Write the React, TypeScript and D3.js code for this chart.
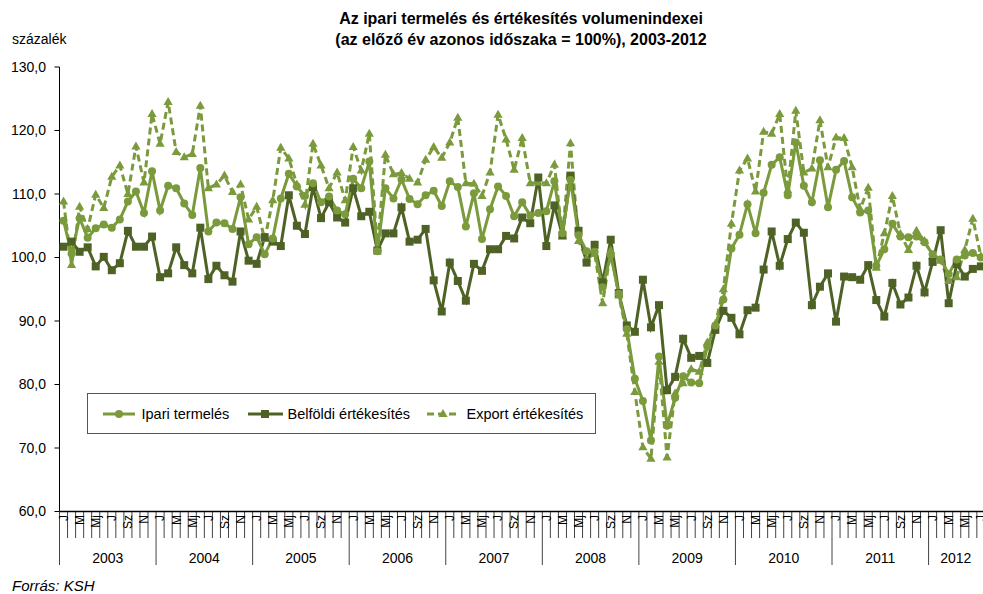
import React from 'react';
import * as d3 from 'd3';

const years = ['2003', '2004', '2005', '2006', '2007', '2008', '2009', '2010', '2011', '2012'];
const monthLabels = ['J', '', 'M', '', 'Mj', '', 'J', '', 'Sz', '', 'N', ''];
const yTicks = [60, 70, 80, 90, 100, 110, 120, 130];

const ipari = [
  105.8, 100.6, 106.2, 103.1, 104.6, 105.2, 104.7, 106.0, 108.8, 110.4, 107.0, 113.6,
  107.4, 111.3, 110.9, 108.5, 106.7, 114.1, 104.1, 105.5, 105.4, 104.5, 109.5, 102.1,
  103.2, 100.5, 103.0, 109.3, 113.2, 111.2, 109.7, 111.7, 108.7, 109.6, 107.4, 106.8,
  112.4, 110.9, 115.1, 101.0, 110.9, 109.3, 112.3, 109.2, 108.4, 109.8, 110.5, 108.1,
  112.0, 111.1, 104.9, 110.1, 102.9, 107.6, 111.2, 109.7, 106.5, 108.7, 106.6, 107.0,
  107.3, 112.0, 103.8, 112.2, 103.5, 101.0, 100.9, 95.3, 100.4, 94.3, 88.7, 80.9,
  77.4, 71.2, 84.4, 73.5, 77.9, 81.3, 80.3, 80.2, 86.0, 89.3, 93.4, 101.4,
  103.6, 108.4, 103.8, 110.2, 114.6, 115.8, 109.8, 118.1, 111.3, 108.7, 115.3, 107.9,
  113.8, 115.2, 109.5, 107.1, 107.4, 98.7, 101.3, 105.3, 103.3, 103.2, 103.3, 102.4,
  100.5, 99.7, 97.4, 99.7, 100.3, 100.7, 100.0,
];

const belfoldi = [
  101.7, 102.5, 100.9, 101.6, 98.6, 100.1, 98.0, 99.1, 104.2, 101.7, 101.7, 103.3,
  96.9, 97.5, 101.6, 98.8, 97.5, 104.7, 96.6, 98.7, 97.2, 96.2, 104.1, 99.5,
  99.0, 103.2, 102.5, 101.8, 109.8, 105.0, 103.7, 111.1, 106.2, 108.7, 106.3, 105.5,
  110.9, 106.5, 107.2, 101.1, 103.8, 103.8, 107.9, 102.5, 102.8, 104.5, 96.4, 91.5,
  99.2, 96.3, 93.2, 99.0, 97.9, 101.3, 101.3, 103.4, 103.0, 106.3, 105.4, 112.6,
  101.8, 108.2, 103.5, 112.9, 104.2, 99.2, 102.0, 96.1, 102.8, 94.4, 89.3, 88.3,
  96.5, 89.0, 92.5, 79.1, 81.2, 87.2, 84.2, 84.5, 83.4, 88.6, 91.6, 90.5,
  87.9, 91.7, 92.1, 98.1, 104.1, 98.7, 102.9, 105.5, 103.9, 92.5, 95.4, 97.5,
  89.9, 97.0, 96.9, 96.5, 98.8, 93.3, 90.7, 96.0, 92.6, 93.7, 98.7, 94.5,
  99.3, 104.3, 92.8, 99.0, 97.0, 98.2, 98.6,
];

const exportErt = [
  108.8, 98.8, 108.0, 104.5, 109.9, 107.8, 112.7, 114.5, 110.0, 117.5, 111.8, 122.6,
  117.9, 124.5, 116.6, 115.8, 116.3, 123.9, 110.9, 111.5, 112.9, 110.3, 111.5, 106.0,
  108.0, 102.9, 109.0, 117.3, 115.6, 111.5, 108.3, 117.9, 114.5, 110.9, 113.4, 109.0,
  117.4, 113.7, 119.5, 101.5, 116.2, 113.1, 113.3, 112.4, 111.8, 115.4, 117.4, 115.7,
  118.1, 122.0, 111.7, 111.6, 109.7, 113.4, 122.5, 118.6, 113.8, 118.8, 111.7, 111.8,
  111.7, 114.6, 103.3, 118.0, 102.6, 99.8, 100.6, 92.8, 101.1, 94.0, 88.0, 78.8,
  70.1, 68.3, 83.6, 68.5, 78.6, 80.2, 82.4, 82.0, 86.6, 89.5, 95.0, 105.3,
  113.7, 115.6, 110.4, 119.8, 119.5, 122.6, 110.6, 123.1, 113.4, 114.0, 121.6, 114.2,
  118.9, 118.8, 114.2, 107.6, 111.0, 98.4, 103.8, 109.7, 103.7, 101.2, 104.2, 102.6,
  100.2, 99.5, 96.3, 96.9, 101.2, 106.1, 100.2,
];

const LIGHT = '#7A9A3C';
const DARK = '#4E6226';
const FONT = '"Liberation Sans", Arial, sans-serif';

export default function App() {
  const W = 983;
  const H = 594;
  const n = ipari.length;
  const x0 = 59.5;
  const mw = 8.047;
  const x = d3.scaleLinear().domain([0, n]).range([x0, x0 + mw * n]);
  const y = d3.scaleLinear().domain([60, 130]).range([511.5, 67]);
  const line = d3
    .line<number>()
    .x((_, i) => x(i + 0.5))
    .y((d) => y(d));

  const tri = 'M0,-5 L4.6,3 L-4.6,3 Z';

  const monthIdx = d3.range(n + 1);
  const yearIdx = d3.range(years.length);

  return (
    <div style={{ position: 'absolute', left: 0, top: 0 }}>
      <svg width={W} height={H} style={{ display: 'block', background: '#fff' }} fontFamily={FONT}>
        <rect x={0} y={0} width={W} height={H} fill="#fff" />
        <text x={521} y={23.5} textAnchor="middle" fontSize={16} fontWeight="bold" fill="#000">
          Az ipari termelés és értékesítés volumenindexei
        </text>
        <text x={521} y={44.5} textAnchor="middle" fontSize={16} fontWeight="bold" fill="#000">
          (az előző év azonos időszaka = 100%), 2003-2012
        </text>
        <text x={12} y={44} fontSize={14} fill="#000">
          százalék
        </text>

        {/* y axis */}
        <line x1={x0} x2={x0} y1={y(130)} y2={y(60)} stroke="#000" strokeWidth={1} />
        {yTicks.map((t) => (
          <g key={t}>
            <line x1={x0 - 5} x2={x0} y1={y(t)} y2={y(t)} stroke="#000" strokeWidth={1} />
            <text x={46} y={y(t)} dy="0.35em" textAnchor="end" fontSize={14} fill="#000">
              {t.toFixed(1).replace('.', ',')}
            </text>
          </g>
        ))}

        {/* x axis */}
        {monthIdx.map((k) => (
          <line
            key={'m' + k}
            x1={x(k)}
            x2={x(k)}
            y1={y(60)}
            y2={k % 12 === 0 ? 565 : 538}
            stroke="#444"
            strokeWidth={1}
          />
        ))}
        {d3.range(n).map((i) =>
          monthLabels[i % 12] ? (
            <text
              key={'ml' + i}
              transform={`translate(${x(i + 0.5)},${515}) rotate(-90)`}
              textAnchor="end"
              dy="0.36em"
              fontSize={12}
              fill="#000"
            >
              {monthLabels[i % 12]}
            </text>
          ) : null
        )}
        {yearIdx.map((j) => {
          const a = x(j * 12);
          const b = x(Math.min((j + 1) * 12, n));
          const mid = j === years.length - 1 ? (a + Math.min(b, W)) / 2 : (a + b) / 2;
          return (
            <text key={'y' + j} x={mid} y={563} textAnchor="middle" fontSize={14} fill="#000">
              {years[j]}
            </text>
          );
        })}
        <line x1={x0} x2={W} y1={y(60)} y2={y(60)} stroke="#000" strokeWidth={1.5} />

        {/* series */}
        <path d={line(exportErt) || ''} fill="none" stroke={LIGHT} strokeWidth={3} strokeDasharray="7,4" />
        <path d={line(belfoldi) || ''} fill="none" stroke={DARK} strokeWidth={3} />
        <path d={line(ipari) || ''} fill="none" stroke={LIGHT} strokeWidth={3} />
        {exportErt.map((v, i) => (
          <path key={'t' + i} d={tri} transform={`translate(${x(i + 0.5)},${y(v)})`} fill={LIGHT} />
        ))}
        {belfoldi.map((v, i) => (
          <rect key={'s' + i} x={x(i + 0.5) - 4} y={y(v) - 4} width={8} height={8} fill={DARK} />
        ))}
        {ipari.map((v, i) => (
          <circle key={'c' + i} cx={x(i + 0.5)} cy={y(v)} r={4} fill={LIGHT} />
        ))}

        {/* legend */}
        <rect x={87.5} y={393.5} width={508} height={40} fill="#fff" stroke="#555" strokeWidth={1} />
        <line x1={103} x2={135} y1={414} y2={414} stroke={LIGHT} strokeWidth={3} />
        <circle cx={119} cy={414} r={4} fill={LIGHT} />
        <text x={141.5} y={414} dy="0.35em" fontSize={14.5} fill="#000">
          Ipari termelés
        </text>
        <line x1={248} x2={283} y1={414} y2={414} stroke={DARK} strokeWidth={3} />
        <rect x={261} y={410} width={8} height={8} fill={DARK} />
        <text x={287.5} y={414} dy="0.35em" fontSize={14.5} fill="#000">
          Belföldi értékesítés
        </text>
        <line x1={427} x2={460} y1={414} y2={414} stroke={LIGHT} strokeWidth={3} strokeDasharray="7,4" />
        <path d={tri} transform="translate(443,414)" fill={LIGHT} />
        <text x={466.5} y={414} dy="0.35em" fontSize={14.5} fill="#000">
          Export értékesítés
        </text>

        <text x={12} y={591} fontSize={15} fontStyle="italic" fill="#000">
          Forrás: KSH
        </text>
      </svg>
    </div>
  );
}
